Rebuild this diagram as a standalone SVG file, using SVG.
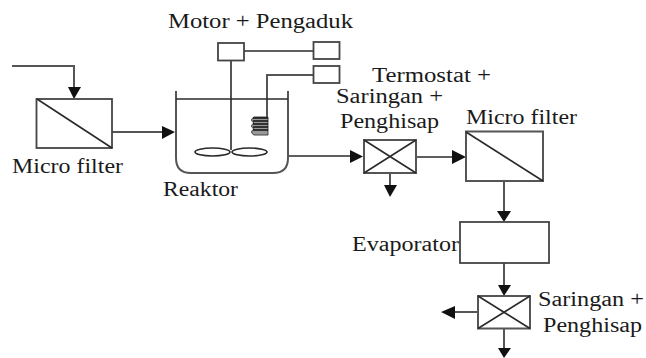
<svg xmlns="http://www.w3.org/2000/svg" width="646" height="358" viewBox="0 0 646 358">
<style>
text{font-family:"Liberation Serif","Times New Roman",serif;font-size:20px;fill:#1a1a1a}
.s{fill:none;stroke:#2a2a2a;stroke-width:1.6}
.g{fill:none;stroke:#555;stroke-width:2}
.b{fill:#fff;stroke:#444;stroke-width:1.8}
.a{fill:#111;stroke:none}
</style>
<rect width="646" height="358" fill="#fff"/>
<g id="connectors">
<path class="g" d="M12 66H74V88"/><path class="a" d="M68 87H81L74 99Z"/>
<path class="g" d="M112 132H163"/><path class="a" d="M162 126V139L175 132Z"/>
<path class="s" d="M288 156H351"/><path class="a" d="M350 150V163L363 156.500Z"/>
<path class="s" d="M243 51H314"/>
<path class="g" d="M231 60V150"/>
<path class="g" d="M267 117V75H314"/>
<path class="s" d="M416 157H453"/><path class="a" d="M452 150V164L466 157Z"/>
<path class="s" d="M390 173V186"/><path class="a" d="M384 185H397L390 197Z"/>
<path class="g" d="M504 181V212"/><path class="a" d="M497 211H511L504 222Z"/>
<path class="g" d="M504 263V286"/><path class="a" d="M498 285H511L504 296Z"/>
<path class="g" d="M478 312H454"/><path class="a" d="M455 306V319L441 312Z"/>
<path class="g" d="M504 329V349"/><path class="a" d="M498 348H511L504 358Z"/>
</g>
<g id="micro-filter-1"><rect class="b" x="36.500" y="99" width="75.500" height="49"/><path class="s" d="M37 99L112 148"/><text x="12" y="173" textLength="111" lengthAdjust="spacingAndGlyphs">Micro filter</text></g>
<g id="motor"><rect class="b" x="218" y="43" width="26" height="17.500"/><text x="168" y="28" textLength="185" lengthAdjust="spacingAndGlyphs">Motor + Pengaduk</text></g>
<g id="box-top"><rect class="b" x="313.500" y="42" width="26" height="17"/></g>
<g id="termostat"><rect class="b" x="313.500" y="66" width="26" height="17"/><text x="372" y="82" textLength="119" lengthAdjust="spacingAndGlyphs">Termostat +</text></g>
<g id="reaktor">
<path class="g" d="M176 91V158Q176 173 191 173H273Q288 173 288 158V91"/>
<path class="s" d="M176 99H288"/>
<ellipse class="s" cx="212.500" cy="152" rx="17.500" ry="4"/><ellipse class="s" cx="249.500" cy="152" rx="17.500" ry="4"/>
<path d="M254 117Q249 120 254 123Q249 126 254 129Q249 132 254 135H268V117Z" fill="#999" stroke="#444"/>
<path d="M253 118H268M253 121H268M253 124H268M253 127H268M253 130H268" stroke="#111" stroke-width="1.300" fill="none"/>
<text x="163" y="196" textLength="75" lengthAdjust="spacingAndGlyphs">Reaktor</text></g>
<g id="saringan-1"><rect class="g" x="364" y="140" width="52" height="33" fill="#fff"/><path class="s" d="M364 140L416 173M416 140L364 173"/><text x="336" y="103" textLength="107" lengthAdjust="spacingAndGlyphs">Saringan +</text><text x="340" y="128" textLength="99" lengthAdjust="spacingAndGlyphs">Penghisap</text></g>
<g id="micro-filter-2"><rect class="g" x="466" y="131.500" width="77" height="49.500" fill="#fff"/><path class="s" d="M466 132L543 181"/><text x="466" y="124" textLength="111" lengthAdjust="spacingAndGlyphs">Micro filter</text></g>
<g id="evaporator"><rect class="b" x="460" y="222" width="89" height="41"/><text x="352" y="251" textLength="107" lengthAdjust="spacingAndGlyphs">Evaporator</text></g>
<g id="saringan-2"><rect class="g" x="478" y="296" width="52" height="32.500" fill="#fff"/><path class="s" d="M478 296L530 328.500M530 296L478 328.500"/><text x="538" y="306" textLength="106" lengthAdjust="spacingAndGlyphs">Saringan +</text><text x="543" y="332" textLength="99" lengthAdjust="spacingAndGlyphs">Penghisap</text></g>
</svg>
